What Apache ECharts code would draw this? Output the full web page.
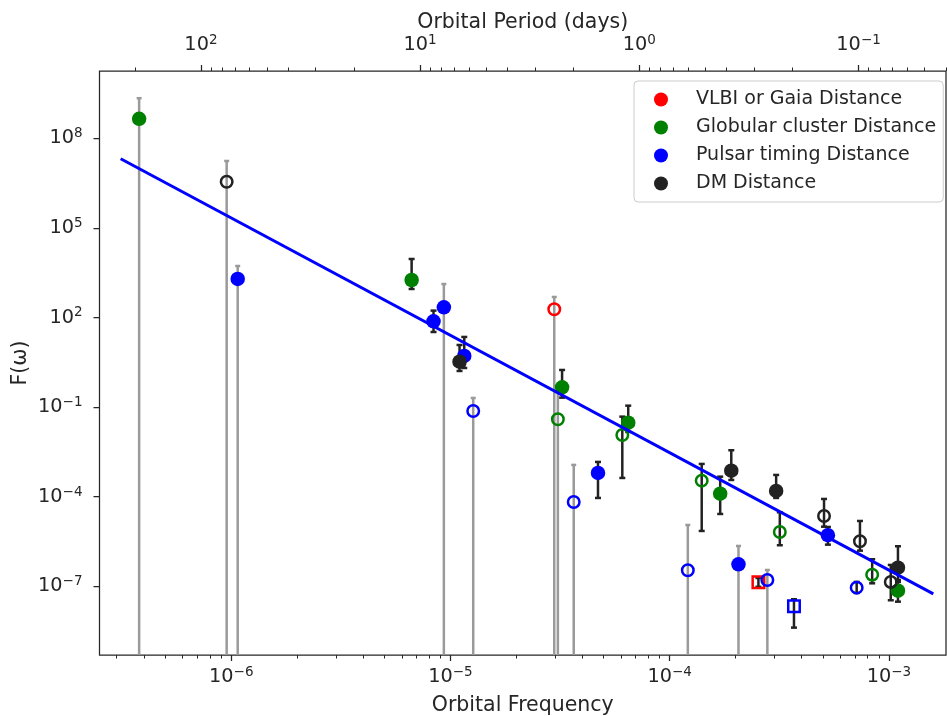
<!DOCTYPE html>
<html>
<head>
<meta charset="utf-8">
<script src="https://cdn.jsdelivr.net/npm/echarts@6/dist/echarts.min.js"></script>
<style>
  html, body { margin: 0; padding: 0; background: #ffffff; }
  #chart { width: 947px; height: 716px; }
</style>
</head>
<body>
<div id="chart"></div>
<script>
// Each row: [orbital frequency, F(ω), lower bound, upper bound].
// A null lower bound marks an upper limit only (bar runs to the bottom of the plot).
const vlbiOpen = [[2.975e-5, 188, null, 486]];
const vlbiSquare = [[2.54e-4, 1.37e-7, 9.6e-8, 1.9e-7]];

const gcFilled = [
  [3.80e-7, 4.5e8, null, 2.2e9],
  [6.65e-6, 1.8e3, 9.0e2, 9.1e3],
  [3.23e-5, 0.461, 0.207, 1.75],
  [6.47e-5, 0.0301, 0.0147, 0.1117],
  [1.70e-4, 1.26e-4, 2.64e-5, 4.69e-4],
  [1.10e-3, 7.15e-8, 3.06e-8, 1.4e-7]
];
const gcOpen = [
  [3.09e-5, 0.0392, null, 0.32],
  [6.08e-5, 0.01167, 4.24e-4, 0.0479],
  [1.40e-4, 3.44e-4, 7.13e-6, 1.25e-3],
  [3.18e-4, 6.6e-6, 2.37e-6, 3.01e-5],
  [8.39e-4, 2.45e-7, 1.26e-7, 8.05e-7]
];

const psrFilled = [
  [1.07e-6, 1.95e3, null, 5.3e3],
  [8.37e-6, 74.7, 32.7, 170],
  [9.33e-6, 220, null, 1.32e3],
  [1.156e-5, 5.15, 2.04, 22.3],
  [4.71e-5, 6.24e-4, 9.08e-5, 1.46e-3],
  [2.06e-4, 5.47e-7, null, 2.24e-6],
  [5.27e-4, 5.12e-6, 2.48e-6, 9.7e-6]
];
const psrOpen = [
  [1.27e-5, 0.0742, null, 0.202],
  [3.65e-5, 6.67e-5, null, 1.16e-3],
  [1.21e-4, 3.44e-7, null, 1.13e-5],
  [2.79e-4, 1.63e-7, null, 3.52e-7],
  [7.13e-4, 9.0e-8, 6.0e-8, 1.4e-7]
];
const psrSquare = [[3.69e-4, 2.15e-8, 4.13e-9, 3.68e-8]];

const dmFilled = [
  [1.10e-5, 3.32, 1.62, 12.0],
  [1.91e-4, 7.45e-4, 3.63e-4, 3.59e-3],
  [3.06e-4, 1.56e-4, 9.08e-5, 5.35e-4],
  [1.10e-3, 4.21e-7, 1.63e-7, 2.19e-6]
];
const dmOpen = [
  [9.53e-7, 3.5e6, null, 1.74e7],
  [5.06e-4, 2.26e-5, 9.9e-6, 8.4e-5],
  [7.38e-4, 3.22e-6, 1.56e-6, 1.54e-5],
  [1.02e-3, 1.40e-7, 3.41e-8, 5.19e-7]
];

// Power-law fit through the sample: [frequency, F(ω)] at both ends
const fitLine = [[3.13e-7, 2.07e7], [1.595e-3, 5.55e-8]];

// Axis ranges and tick labels
const FREQ_RANGE = [2.506e-7, 1.822e-3];
const F_RANGE = [5.01e-10, 1.79e10];
const freqTicks = [1e-6, 1e-5, 1e-4, 1e-3];
const periodTicks = [100, 10, 1, 0.1];
const fTicks = [1e8, 1e5, 1e2, 1e-1, 1e-4, 1e-7];

const NAMES = ['VLBI or Gaia Distance', 'Globular cluster Distance', 'Pulsar timing Distance', 'DM Distance'];
const COLORS = ['#ff0000', '#008000', '#0000ff', '#222222'];

// Orbital period in days for an orbital (angular) frequency in rad/s
const toPeriod = f => 2 * Math.PI / (86400 * f);
const PERIOD_RANGE = [toPeriod(FREQ_RANGE[1]), toPeriod(FREQ_RANGE[0])];

// Minor ticks at 2..9 × 10^n inside a range
function minorTicks(range) {
  const out = [];
  for (let e = -10; e <= 10; e++) {
    for (let m = 2; m <= 9; m++) {
      const v = m * Math.pow(10, e);
      if (v > range[0] && v < range[1]) out.push(v);
    }
  }
  return out;
}

const INK = '#262626';
const FONT = 'DejaVu Sans';
function powLabel(v) {
  const e = Math.round(Math.log10(v));
  return '{b|10}{s|' + (e < 0 ? '\u2212' + (-e) : String(e)) + '}';
}
const rich = {
  b: { fontSize: 19.3, fontFamily: FONT, color: INK },
  s: { fontSize: 13.5, fontFamily: FONT, color: INK, padding: [0, 0, 9, 0] }
};

function majorAxis(extra) {
  return Object.assign({
    type: 'log',
    logBase: 10,
    axisLine: { show: false },
    splitLine: { show: false },
    minorTick: { show: false },
    axisTick: { show: true, inside: false, length: 6, lineStyle: { color: INK, width: 1.25 } },
    axisLabel: { formatter: powLabel, rich: rich, color: INK },
    nameTextStyle: { fontSize: 20.5, fontFamily: FONT, color: INK }
  }, extra);
}
function minorAxis(extra, ticks) {
  return Object.assign({
    type: 'log',
    logBase: 10,
    axisLine: { show: false },
    splitLine: { show: false },
    axisTick: { show: true, inside: false, length: 3.5, lineStyle: { color: INK, width: 1 }, customValues: ticks },
    axisLabel: { show: false }
  }, extra);
}

// Error bars: grey for upper limits (down to the axis), dark with caps for measured ranges
function renderErr(params, api) {
  const x = api.value(0);
  const lo = api.value(2);
  const hi = api.value(3);
  const open = lo == null || isNaN(lo);
  const top = api.coord([x, hi]);
  const cs = params.coordSys;
  const bottomY = open ? cs.y + cs.height : api.coord([x, lo])[1];
  const color = open ? '#9a9a9a' : '#222222';
  const capHalf = open ? 2.5 : 3;
  const children = [
    { type: 'line', shape: { x1: top[0], y1: top[1], x2: top[0], y2: bottomY }, style: { stroke: color, lineWidth: 2.5 } },
    { type: 'line', shape: { x1: top[0] - capHalf, y1: top[1], x2: top[0] + capHalf, y2: top[1] }, style: { stroke: color, lineWidth: 2.5 } }
  ];
  if (!open) {
    children.push({ type: 'line', shape: { x1: top[0] - capHalf, y1: bottomY, x2: top[0] + capHalf, y2: bottomY }, style: { stroke: color, lineWidth: 2.5 } });
  }
  return { type: 'group', children: children };
}

function markerSeries(idx, rows, kind) {
  const color = COLORS[idx];
  const filled = kind === 'filled';
  return {
    type: 'scatter',
    name: NAMES[idx],
    data: rows.map(r => [r[0], r[1]]),
    symbol: kind === 'square' ? 'rect' : 'circle',
    symbolSize: filled ? 14.5 : 11.5,
    itemStyle: filled
      ? { color: color, opacity: 1 }
      : { color: 'rgba(0,0,0,0)', borderColor: color, borderWidth: 2.5, opacity: 1 },
    emphasis: { disabled: true },
    z: 3
  };
}

const allRows = [].concat(vlbiOpen, vlbiSquare, gcFilled, gcOpen, psrFilled, psrOpen, psrSquare, dmFilled, dmOpen);

const chart = echarts.init(document.getElementById('chart'), null, { renderer: 'canvas' });
chart.setOption({
  animation: false,
  backgroundColor: '#ffffff',
  textStyle: { fontFamily: FONT },
  grid: {
    left: 99.5, right: 1, top: 71, bottom: 61,
    show: true, borderColor: INK, borderWidth: 1.25, backgroundColor: 'transparent',
    containLabel: false, outerBoundsMode: 'none'
  },
  legend: {
    orient: 'vertical',
    left: 634, top: 81,
    padding: [9, 7, 9, 20],
    itemGap: 9,
    itemWidth: 14, itemHeight: 14,
    backgroundColor: '#ffffff',
    borderColor: '#cccccc', borderWidth: 1, borderRadius: 4,
    textStyle: { fontSize: 19, fontFamily: FONT, color: INK, padding: [0, 0, 0, 23] },
    selectedMode: false,
    data: NAMES.map((n, i) => ({ name: n, icon: 'circle', itemStyle: { color: COLORS[i], borderWidth: 0 } }))
  },
  xAxis: [
    majorAxis({
      position: 'bottom', min: FREQ_RANGE[0], max: FREQ_RANGE[1],
      name: 'Orbital Frequency', nameLocation: 'middle', nameGap: 40,
      axisTick: { show: true, inside: false, length: 6, lineStyle: { color: INK, width: 1.25 }, customValues: freqTicks },
      axisLabel: { formatter: powLabel, rich: rich, color: INK, margin: 10, customValues: freqTicks }
    }),
    minorAxis({ position: 'bottom', min: FREQ_RANGE[0], max: FREQ_RANGE[1] }, minorTicks(FREQ_RANGE)),
    majorAxis({
      position: 'top', inverse: true, min: PERIOD_RANGE[0], max: PERIOD_RANGE[1],
      name: 'Orbital Period (days)', nameLocation: 'middle', nameGap: 38, nameMoveOverlap: false,
      axisTick: { show: true, inside: false, length: 6, lineStyle: { color: INK, width: 1.25 }, customValues: periodTicks },
      axisLabel: { formatter: powLabel, rich: rich, color: INK, margin: 15, customValues: periodTicks }
    }),
    minorAxis({ position: 'top', inverse: true, min: PERIOD_RANGE[0], max: PERIOD_RANGE[1] }, minorTicks(PERIOD_RANGE))
  ],
  yAxis: [
    majorAxis({
      position: 'left', min: F_RANGE[0], max: F_RANGE[1],
      name: 'F(\u03c9)', nameLocation: 'middle', nameGap: 68, nameRotate: 90, nameMoveOverlap: false,
      axisTick: { show: true, inside: false, length: 6, lineStyle: { color: INK, width: 1.25 }, customValues: fTicks },
      axisLabel: { formatter: powLabel, rich: rich, color: INK, margin: 17, customValues: fTicks }
    })
  ],
  series: [
    {
      type: 'custom',
      name: 'error bars',
      data: allRows,
      encode: { x: 0, y: 1 },
      renderItem: renderErr,
      clip: true,
      silent: true,
      z: 1
    },
    markerSeries(0, vlbiOpen, 'open'),
    markerSeries(0, vlbiSquare, 'square'),
    markerSeries(1, gcFilled, 'filled'),
    markerSeries(1, gcOpen, 'open'),
    markerSeries(2, psrFilled, 'filled'),
    markerSeries(2, psrOpen, 'open'),
    markerSeries(2, psrSquare, 'square'),
    markerSeries(3, dmFilled, 'filled'),
    markerSeries(3, dmOpen, 'open'),
    {
      type: 'line',
      name: 'fit',
      data: fitLine,
      symbol: 'none',
      lineStyle: { color: '#0000ff', width: 3 },
      silent: true,
      z: 4
    }
  ]
});
</script>
</body>
</html>
